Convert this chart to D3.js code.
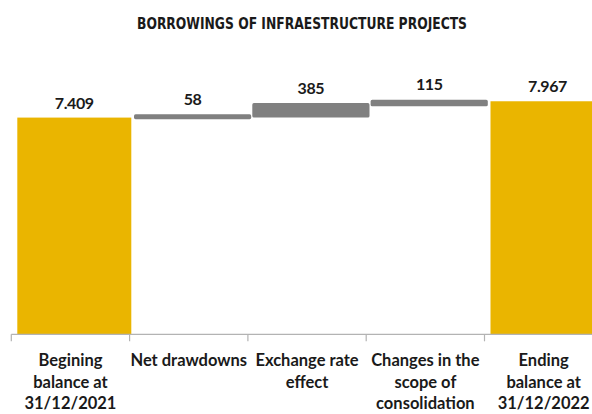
<!DOCTYPE html>
<html>
<head>
<meta charset="utf-8">
<script src="https://cdn.jsdelivr.net/npm/d3@7"></script>
<style>
  html, body { margin: 0; padding: 0; background: #fff; }
  svg { display: block; }
</style>
</head>
<body>
<svg id="chart" width="592" height="414"></svg>
<script>
// Waterfall: opening balance, movements, closing balance
const categories = ["begin", "drawdowns", "fx", "scope", "end"];
const categoryLabels = [
  ["Begining", "balance at", "31/12/2021"],
  ["Net drawdowns"],
  ["Exchange rate", "effect"],
  ["Changes in the", "scope of", "consolidation"],
  ["Ending", "balance at", "31/12/2022"]
];
const values = [7409, 58, 385, 115, 7967];
const kinds = ["total", "delta", "delta", "delta", "total"];
const valueLabels = ["7.409", "58", "385", "115", "7.967"];
const title = "BORROWINGS OF INFRAESTRUCTURE PROJECTS";

const YELLOW = "#EAB500";
const GREY = "#808080";

const svg = d3.select("#chart");

// running totals for the floating bars
let running = 0;
const bars = values.map((v, i) => {
  let y0, y1;
  if (kinds[i] === "total") { y0 = 0; y1 = v; running = v; }
  else { y0 = running; y1 = running + v; running = y1; }
  return { key: categories[i], kind: kinds[i], y0, y1, label: valueLabels[i], lines: categoryLabels[i] };
});

const bandW = 118.3;
const x = d3.scaleBand()
  .domain(categories)
  .range([11.3, 11.3 + bandW * categories.length])
  .paddingInner(0).paddingOuter(0);

const y = d3.scaleLinear().domain([0, 8000]).range([334.3, 100.3]);

const barOffset = 6;
const barW = 114;

// title (condensed)
svg.append("text")
  .attr("x", 302).attr("y", 29)
  .attr("text-anchor", "middle")
  .attr("font-family", "'Liberation Sans Narrow', 'DejaVu Sans Condensed', sans-serif")
  .attr("font-weight", "bold")
  .attr("font-size", 15)
  .attr("textLength", 330)
  .attr("lengthAdjust", "spacingAndGlyphs")
  .attr("fill", "#1a1a1a")
  .text(title);

// bars
svg.append("g").selectAll("rect")
  .data(bars)
  .join("rect")
  .attr("x", d => x(d.key) + barOffset)
  .attr("width", barW)
  .attr("y", d => y(d.y1))
  .attr("height", d => y(d.y0) - y(d.y1))
  .attr("fill", d => d.kind === "total" ? YELLOW : GREY)
  .attr("stroke", d => d.kind === "total" ? "none" : GREY)
  .attr("stroke-width", 3.2)
  .attr("stroke-linejoin", "round");

// value labels
svg.append("g").selectAll("text")
  .data(bars)
  .join("text")
  .attr("x", d => x(d.key) + barOffset + barW / 2)
  .attr("y", d => y(d.y1) - (d.kind === "total" ? 9 : 11))
  .attr("text-anchor", "middle")
  .attr("font-family", "Lato, 'Open Sans', sans-serif")
  .attr("font-weight", "bold")
  .attr("font-size", 16)
  .attr("letter-spacing", -0.4)
  .attr("fill", "#1a1a1a")
  .text(d => d.label);

// category axis: ticks on band boundaries
const axisG = svg.append("g").attr("transform", `translate(0,${y(0)})`);
const edges = categories.map(c => x(c)).concat([x.range()[1]]);
axisG.append("line")
  .attr("x1", x.range()[0]).attr("x2", x.range()[1])
  .attr("y1", 0).attr("y2", 0)
  .attr("stroke", "#b3b3b3").attr("stroke-width", 1.2);
axisG.selectAll("line.tick")
  .data(edges)
  .join("line")
  .attr("class", "tick")
  .attr("x1", d => d).attr("x2", d => d)
  .attr("y1", 0).attr("y2", 7)
  .attr("stroke", "#b3b3b3").attr("stroke-width", 1.2);

const labelG = svg.append("g").selectAll("text")
  .data(bars)
  .join("text")
  .attr("text-anchor", "middle")
  .attr("font-family", "Lato, 'Open Sans', sans-serif")
  .attr("font-weight", "bold")
  .attr("font-size", 16.5)
  .attr("fill", "#1a1a1a")
  .attr("transform", d => `translate(${x(d.key) + x.bandwidth() / 2},366)`);
labelG.selectAll("tspan")
  .data(d => d.lines)
  .join("tspan")
  .attr("x", 0)
  .attr("y", (d, i) => i * 21.5)
  .text(d => d);
</script>
</body>
</html>
